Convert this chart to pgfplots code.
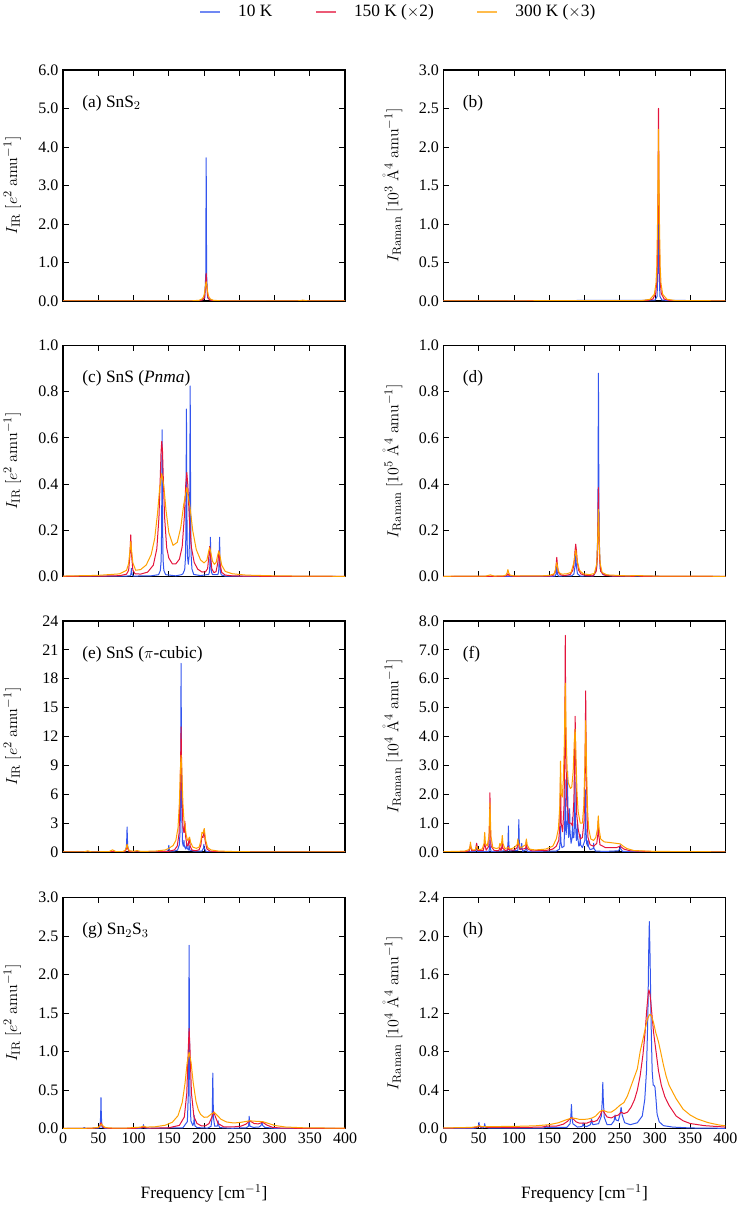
\documentclass[border=0pt]{standalone}
\usepackage[no-math]{fontspec}
\setmainfont{Liberation Serif}
\usepackage{pgfplots}
\pgfplotsset{compat=1.18}
\definecolor{cB}{RGB}{51,85,238}
\definecolor{cR}{RGB}{228,20,60}
\definecolor{cO}{RGB}{255,160,0}
\newcommand\fs{\fontsize{12}{14}\selectfont}
\newcommand\fl{\fontsize{12.5}{14}\selectfont}
\newcommand\fg{\fontsize{13}{15}\selectfont}
\pgfplotsset{
 sp/.style={width=211.5pt, height=173.25pt, scale only axis, anchor=north west,
  xmin=0, xmax=400, ymin=0, xtick={0,50,...,400}, tick align=inside,
  major tick length=4.3pt, tick style={black, line width=0.7pt},
  axis line style={line width=0.9pt},
  tick label style={font=\fs}, label style={font=\fl},
  /pgf/number format/assume math mode=true, scaled y ticks=false, scaled x ticks=false,
  every axis plot/.append style={line width=0.75pt, line join=round, mark=none},
  ylabel style={at={(axis description cs:-0.18,0.5)}, anchor=center},
  xlabel style={at={(axis description cs:0.5,-0.28)}, anchor=center, font=\fg},
  yticklabel style={/pgf/number format/.cd, fixed, fixed zerofill, precision=1},
  clip=true},
 top/.style={xticklabels={}},
 bot/.style={xlabel={Frequency [cm$^{-1}$]}},
 L/.style={ylabel={$I_{\mathrm{IR}}\ [e^{2}\ \mathrm{amu}^{-1}]$}},
}
\begin{document}
\begin{tikzpicture}
\useasboundingbox (0,0) rectangle (556.5pt,914.25pt);
% ---------------- (a)
\begin{axis}[sp, top, L, at={(47.3pt,861.75pt)}, ymax=6, ytick={0,1,...,6},
 legend style={at={(1.19,1.252)}, anchor=center, draw=none, fill=none, font=\fg,
  legend columns=3, /tikz/every odd column/.append style={column sep=11pt},
  /tikz/every even column/.append style={column sep=30pt}},
 legend image code/.code={\draw[#1, line width=1.2pt] (0pt,0pt) -- (15pt,0pt);},
 legend image post style={opacity=0.7}]
\addplot[cB] coordinates {(0,0) (195,0.01) (201,0.08) (202.4,0.7) (203,3.72) (203.6,0.7) (205,0.08) (211,0.01) (400,0)};
\addplot[cR] coordinates {(0,0.001) (180,0.002) (193,0.007) (198,0.027) (200,0.07) (201,0.144) (202,0.36) (203,0.72) (204,0.36) (205,0.144) (206,0.07) (208,0.027) (213,0.007) (230,0.002) (335,0.001) (340,0.01) (345,0.001) (400,0.0005)};
\addplot[cO] coordinates {(0,0.001) (150,0.003) (183,0.005) (193,0.019) (197,0.05) (199,0.1) (200,0.154) (201,0.25) (202,0.4) (203,0.5) (204,0.4) (205,0.25) (206,0.154) (207,0.1) (209,0.05) (213,0.019) (223,0.005) (300,0.002) (333,0.004) (337,0.012) (340,0.022) (343,0.012) (347,0.004) (400,0.001)};
\legend{10 K, 150 K ($\times$2), 300 K ($\times$3)}
\node[anchor=west, font=\fg] at (rel axis cs:0.052,0.857) {(a) SnS$_2$};
\end{axis}
% ---------------- (b)
\begin{axis}[sp, top, at={(332.6pt,861.75pt)}, ymax=3, ytick={0,0.5,...,3},
 ylabel={$I_{\mathrm{Raman}}\ [10^{3}\ \mathrm{\mathring{A}}^{4}\ \mathrm{amu}^{-1}]$}]
\addplot[cB] coordinates {(0,0) (300,0.01) (303,0.06) (304.4,0.5) (305,1.05) (305.6,0.5) (307,0.06) (310,0.01) (400,0)};
\addplot[cR] coordinates {(0,0.001) (289,0.006) (297,0.025) (301,0.096) (302.6,0.25) (303.4,0.5) (304.2,1.25) (305,2.5) (305.8,1.25) (306.6,0.5) (307.4,0.25) (309,0.096) (313,0.025) (321,0.006) (400,0.001)};
\addplot[cO] coordinates {(0,0.001) (281,0.0055) (293,0.022) (299,0.086) (301.4,0.223) (302.6,0.446) (303.8,1.115) (305,2.23) (306.2,1.115) (307.4,0.446) (308.6,0.223) (311,0.086) (317,0.022) (329,0.0055) (400,0.002)};
\node[anchor=west, font=\fg] at (rel axis cs:0.052,0.857) {(b)};
\end{axis}
% ---------------- (c)
\begin{axis}[sp, top, L, at={(47.3pt,655.1pt)}, ymax=1, ytick={0,0.2,...,1}]
\addplot[cB] coordinates {(0,0.001) (90,0.002) (95,0.003) (96,0.007) (96.5,0.017) (97,0.035) (97.5,0.017) (98,0.007) (100,0.002) (125,0.003) (135.5,0.008) (138,0.026) (139,0.065) (139.5,0.127) (140,0.318) (140.5,0.635) (141,0.318) (141.5,0.127) (142,0.065) (143,0.026) (145.5,0.008) (160,0.003) (168,0.008) (170,0.012) (172.5,0.03) (173.5,0.075) (174,0.148) (174.5,0.365) (175,0.725) (175.5,0.37) (176,0.155) (176.5,0.085) (177.65,0.053) (178.8,0.09) (179.3,0.172) (179.8,0.42) (180.3,0.825) (180.8,0.415) (181.3,0.168) (181.8,0.085) (182.8,0.033) (185.3,0.009) (195,0.004) (204,0.008) (206.5,0.008) (207.5,0.018) (208,0.035) (208.5,0.085) (209,0.17) (209.5,0.085) (210,0.036) (210.5,0.019) (212,0.008) (215.5,0.008) (219.5,0.008) (220.5,0.018) (221,0.035) (221.5,0.085) (222,0.17) (222.5,0.085) (223,0.035) (223.5,0.017) (224.5,0.007) (230,0.002) (260,0.001) (400,0)};
\addplot[cR] coordinates {(0,0.001) (50,0.0014) (80,0.0036) (90,0.010) (93,0.027) (94.8,0.089) (96,0.18) (97.2,0.092) (99,0.028) (102,0.012) (110,0.0105) (120,0.019) (128,0.049) (133,0.120) (136,0.256) (138,0.441) (139,0.541) (140,0.585) (141,0.546) (142,0.443) (144,0.258) (147,0.124) (150,0.08) (155,0.055) (160,0.055) (165,0.075) (169,0.130) (172,0.259) (174,0.396) (175.5,0.451) (177,0.396) (179,0.257) (182,0.127) (186,0.061) (191,0.032) (197,0.0195) (202,0.020) (205,0.034) (207,0.093) (208,0.13) (209,0.093) (211,0.033) (214,0.017) (217,0.021) (219.5,0.060) (221,0.111) (222.5,0.058) (225,0.018) (230,0.0063) (240,0.0029) (260,0.0015) (300,0.0008) (400,0.0003)};
\addplot[cO] coordinates {(0,0.002) (50,0.005) (80,0.0115) (90,0.0265) (93,0.056) (94.5,0.101) (96,0.151) (97.5,0.103) (99,0.059) (103,0.027) (110,0.030) (118,0.050) (125,0.095) (130,0.165) (134,0.274) (137,0.383) (140,0.445) (143,0.389) (146,0.287) (150,0.19) (156,0.135) (162,0.148) (167,0.213) (171,0.309) (175.5,0.385) (180,0.301) (184,0.197) (189,0.116) (195,0.072) (200,0.059) (204,0.071) (206.5,0.108) (208,0.125) (209.5,0.106) (212,0.066) (214.5,0.053) (217,0.060) (219.5,0.095) (221,0.11) (222.5,0.091) (225,0.049) (230,0.022) (240,0.012) (260,0.006) (300,0.003) (350,0.0015) (400,0.001)};
\node[anchor=west, font=\fg] at (rel axis cs:0.052,0.857) {(c) SnS (\textit{Pnma})};
\end{axis}
% ---------------- (d)
\begin{axis}[sp, top, at={(332.6pt,655.1pt)}, ymax=1, ytick={0,0.2,...,1},
 ylabel={$I_{\mathrm{Raman}}\ [10^{5}\ \mathrm{\mathring{A}}^{4}\ \mathrm{amu}^{-1}]$}]
\addplot[cB] coordinates {(0,0) (155,0.001) (158.2,0.002) (159.7,0.01) (160.2,0.025) (160.7,0.05) (161.2,0.025) (161.7,0.01) (163.2,0.002) (182,0.003) (185,0.011) (186.6,0.045) (187.6,0.09) (188.6,0.045) (190,0.012) (194,0.002) (213,0.003) (217.3,0.034) (218.8,0.176) (219.3,0.44) (219.8,0.88) (220.3,0.44) (220.8,0.176) (222.3,0.034) (226,0.009) (240,0.002) (400,0)};
\addplot[cR] coordinates {(0,0.0005) (85,0.001) (90,0.004) (91.4,0.012) (93,0.004) (100,0.001) (150,0.002) (155,0.0035) (158.3,0.017) (159.5,0.041) (160.7,0.083) (161.9,0.041) (163.1,0.017) (166,0.007) (172,0.004) (180,0.009) (183.6,0.028) (185.6,0.07) (186.6,0.112) (187.6,0.14) (188.6,0.112) (189.6,0.07) (191.6,0.028) (195,0.011) (203,0.004) (212,0.003) (216.6,0.022) (218.2,0.076) (219,0.19) (219.8,0.385) (220.6,0.19) (221.4,0.076) (223,0.022) (228,0.006) (240,0.002) (270,0.001) (275,0.004) (280,0.001) (400,0.0003)};
\addplot[cO] coordinates {(0,0.001) (60,0.002) (66.6,0.007) (72,0.002) (85,0.003) (88.4,0.006) (90.2,0.015) (91.4,0.03) (92.6,0.015) (94.4,0.006) (100,0.003) (140,0.003) (150,0.005) (155,0.0095) (157.1,0.012) (158.9,0.03) (160.7,0.06) (162.5,0.03) (164.3,0.016) (168,0.01) (175,0.012) (181,0.018) (184.8,0.058) (187.6,0.115) (190.4,0.058) (193,0.027) (198,0.012) (207,0.008) (214,0.013) (217.4,0.055) (218.6,0.145) (219.8,0.29) (221,0.145) (222.2,0.058) (225,0.018) (232,0.007) (260,0.003) (275,0.004) (300,0.002) (400,0.001)};
\node[anchor=west, font=\fg] at (rel axis cs:0.052,0.857) {(d)};
\end{axis}
% ---------------- (e)
\begin{axis}[sp, top, L, at={(47.3pt,448.5pt)}, ymax=24, ytick={0,3,...,24},
 yticklabel style={/pgf/number format/.cd, fixed, precision=0}]
\addplot[cB] coordinates {(0,0) (85,0.01) (88.3,0.1) (89.8,0.52) (90.3,1.3) (90.8,2.6) (91.3,1.3) (91.8,0.52) (93.3,0.1) (100,0.02) (145,0.03) (148.5,0.1) (149.5,0.35) (150,0.7) (150.5,0.35) (151.5,0.1) (158,0.1) (162.4,0.2) (164.9,0.75) (165.9,2.0) (166.4,3.9) (166.9,9.8) (167.4,19.6) (167.9,9.8) (168.4,3.9) (169.4,1.0) (170.5,0.6) (171.5,1.2) (172,0.6) (174,0.3) (175.5,0.9) (176,0.4) (178,0.2) (178.8,0.7) (179.5,0.2) (185,0.1) (197,0.1) (199.2,0.4) (199.7,0.8) (200.2,0.4) (203,0.05) (210,0.02) (400,0)};
\addplot[cR] coordinates {(0,0.002) (80,0.03) (88,0.06) (90,0.38) (90.8,0.75) (91.6,0.38) (93.6,0.06) (100,0.012) (130,0.015) (150,0.07) (158,0.22) (162,0.63) (164.5,1.92) (166.2,6.51) (167.4,13.0) (168.6,6.6) (170,2.58) (171.5,2.0) (172.8,3.2) (174,1.52) (175.8,0.63) (177.5,0.69) (179,1.5) (180.5,0.55) (183,0.20) (188,0.125) (193,0.235) (195.5,0.71) (197,1.64) (198.5,1.51) (200,2.3) (201.5,1.16) (204,0.32) (208,0.10) (215,0.038) (230,0.012) (260,0.005) (400,0.001)};
\addplot[cO] coordinates {(0,0.01) (30,0.02) (35,0.12) (40,0.02) (65,0.03) (70,0.22) (75,0.04) (85,0.05) (88,0.17) (89.6,0.43) (90.8,0.8) (92,0.43) (94,0.14) (100,0.07) (105,0.15) (110,0.06) (130,0.09) (145,0.21) (150,0.38) (156,0.67) (160,1.2) (163,2.5) (165,5.15) (166.4,8.58) (167.4,10.05) (168.4,8.65) (170,5.05) (171.5,3.27) (173,2.8) (174.5,1.82) (176.5,1.21) (178,1.29) (179.5,1.54) (181,0.99) (184,0.51) (189,0.38) (193,0.51) (195.4,1.13) (197,2.04) (198.6,1.94) (200.3,2.44) (202.1,1.29) (205,0.46) (210,0.21) (220,0.1) (240,0.05) (270,0.02) (300,0.01) (400,0.005)};
\node[anchor=west, font=\fg] at (rel axis cs:0.052,0.857) {(e) SnS ($\pi$-cubic)};
\end{axis}
% ---------------- (f)
\begin{axis}[sp, top, at={(332.6pt,448.5pt)}, ymax=8, ytick={0,1,...,8},
 ylabel={$I_{\mathrm{Raman}}\ [10^{4}\ \mathrm{\mathring{A}}^{4}\ \mathrm{amu}^{-1}]$}]
\addplot[cB] coordinates {(0,0) (45.5,0.01) (46.5,0.12) (47,0.3) (47.5,0.12) (48.5,0.01) (64.5,0.02) (65.4,0.16) (65.9,0.4) (66.4,0.16) (67.5,0.02) (90.7,0.04) (91.6,0.36) (92.1,0.9) (92.6,0.36) (93.5,0.04) (105.5,0.05) (106.4,0.45) (106.9,1.12) (107.4,0.45) (108.5,0.08) (110.5,0.12) (111,0.3) (111.5,0.12) (112.5,0.02) (117,0.08) (117.6,0.2) (118.2,0.08) (119,0.02) (160,0.03) (164.5,0.1) (165.5,0.36) (166,0.9) (166.5,0.36) (168,0.15) (171,0.2) (172,1.0) (172.5,2.5) (173,1.1) (174,0.6) (175.5,1.2) (176,2.8) (176.5,1.2) (177.5,0.5) (178.5,0.7) (179,1.5) (179.5,0.7) (181,0.3) (182.5,0.5) (183,1.2) (183.5,0.5) (185,0.5) (186,1.1) (186.5,2.6) (187,1.1) (188.5,0.4) (189.5,0.5) (190,1.1) (190.5,0.5) (192,0.2) (193.5,0.25) (194,0.6) (194.5,0.25) (197,0.15) (200.5,0.4) (201,0.9) (201.5,2.15) (202,0.9) (203,0.3) (204.5,0.2) (205,0.4) (205.5,0.2) (208,0.08) (212.5,0.12) (213,0.3) (213.5,0.12) (216,0.03) (230,0.02) (248,0.04) (250.3,0.12) (250.8,0.25) (251.3,0.12) (254,0.02) (400,0)};
\addplot[cR] coordinates {(0,0.005) (30,0.01) (36.5,0.04) (38.3,0.25) (40,0.04) (45.5,0.06) (47,0.3) (48.5,0.06) (56.5,0.05) (58.5,0.3) (60.5,0.06) (64.3,0.2) (65.3,0.9) (65.9,2.05) (66.5,0.9) (67.5,0.2) (72,0.05) (78.5,0.05) (80,0.15) (81.5,0.05) (82.4,0.12) (83.4,0.35) (84.4,0.12) (88,0.05) (91.2,0.08) (92,0.2) (92.8,0.08) (100,0.06) (104.5,0.15) (105.5,0.4) (106.3,0.25) (107,0.3) (108,0.1) (111,0.1) (116.6,0.12) (117.6,0.4) (118.6,0.12) (125,0.04) (145,0.05) (155,0.1) (160,0.2) (163.5,0.4) (165,0.9) (166,2.4) (167,1.0) (169,0.7) (171,1.6) (172,3.5) (172.8,7.5) (173.6,3.5) (175,1.6) (176.5,1.5) (178,1.0) (181,1.0) (183,0.9) (185,1.8) (186,3.2) (186.8,4.7) (187.6,3.2) (189,1.3) (191,0.8) (194,0.45) (197,0.5) (199.5,1.1) (200.8,2.8) (201.7,5.58) (202.6,2.8) (204,1.0) (205,0.5) (208,0.25) (213,0.2) (217.5,0.3) (218.9,0.6) (219.6,1.1) (220.3,0.6) (222,0.25) (230,0.15) (245,0.15) (250.8,0.2) (256,0.1) (265,0.04) (300,0.01) (400,0.003)};
\addplot[cO] coordinates {(0,0.01) (30,0.03) (36,0.08) (37.5,0.17) (38.3,0.34) (39.1,0.17) (41,0.07) (45,0.07) (47,0.2) (49,0.08) (55,0.1) (57.5,0.3) (58.5,0.68) (59.5,0.3) (62,0.2) (64.5,0.55) (65.9,1.7) (67.3,0.55) (70,0.16) (75,0.12) (78.8,0.15) (80,0.3) (81.2,0.2) (82.4,0.3) (83.4,0.57) (84.4,0.3) (87,0.12) (92,0.15) (95,0.1) (100,0.15) (104.5,0.25) (105.5,0.45) (106.5,0.28) (109,0.15) (112,0.18) (116.5,0.25) (117.6,0.45) (118.7,0.24) (122,0.1) (130,0.07) (145,0.1) (155,0.2) (160,0.45) (163,0.8) (165,1.6) (166,3.15) (167,2.0) (168.5,1.9) (170,2.5) (171.5,3.8) (172.8,5.85) (174,4.0) (175.5,2.8) (177,2.4) (180,2.2) (182,2.25) (184,2.8) (185.5,3.8) (186.8,4.25) (188,3.2) (189.5,2.0) (191,1.4) (194,1.0) (197,1.0) (199,1.6) (200.5,3.0) (201.7,4.55) (203,2.8) (204.5,1.4) (206,0.8) (209,0.45) (213,0.4) (216,0.5) (218.5,0.8) (219.6,1.25) (220.7,0.8) (223,0.45) (228,0.35) (235,0.33) (245,0.3) (250.8,0.28) (255,0.2) (260,0.12) (270,0.05) (300,0.02) (400,0.005)};
\node[anchor=west, font=\fg] at (rel axis cs:0.052,0.857) {(f)};
\end{axis}
% ---------------- (g)
\begin{axis}[sp, bot, L, at={(47.3pt,241.1pt)}, ymax=3, ytick={0,0.5,...,3}]
\addplot[cB] coordinates {(0,0) (28,0.002) (30,0.012) (32,0.002) (50,0.005) (52.3,0.015) (53.3,0.16) (53.8,0.40) (54.3,0.16) (55.3,0.015) (60,0.003) (110,0.003) (113,0.01) (113.6,0.025) (114,0.05) (114.4,0.025) (115,0.01) (120,0.003) (170,0.01) (176.3,0.09) (177.8,0.48) (178.3,1.19) (178.8,2.38) (179.3,1.19) (179.8,0.48) (181.3,0.1) (184,0.04) (185.3,0.07) (185.6,0.085) (186,0.17) (186.4,0.085) (187,0.035) (190,0.012) (205,0.006) (209.9,0.028) (211.4,0.14) (211.9,0.36) (212.4,0.72) (212.9,0.36) (213.4,0.14) (215,0.03) (218.5,0.03) (219.5,0.05) (220,0.1) (220.5,0.05) (222,0.012) (240,0.003) (260,0.01) (263,0.03) (263.5,0.08) (264,0.16) (264.5,0.08) (265,0.03) (270,0.015) (278,0.02) (280.8,0.04) (282,0.08) (283.2,0.04) (286,0.015) (300,0.003) (400,0)};
\addplot[cR] coordinates {(0,0.002) (40,0.002) (50,0.011) (52.3,0.038) (53.8,0.076) (55.3,0.038) (57.6,0.011) (65,0.003) (100,0.0016) (112,0.012) (114,0.022) (116,0.012) (125,0.004) (150,0.01) (165,0.041) (172,0.15) (175.5,0.46) (177.5,1.01) (178.8,1.3) (180.1,1.01) (182.1,0.46) (185.6,0.155) (190,0.065) (196,0.036) (202,0.036) (207,0.065) (210.5,0.136) (213.5,0.22) (216.5,0.142) (220,0.065) (228,0.021) (240,0.02) (252,0.03) (259,0.055) (265,0.1) (271,0.065) (277,0.06) (283,0.082) (289,0.045) (297,0.016) (310,0.005) (350,0.002) (400,0.001)};
\addplot[cO] coordinates {(0,0.002) (40,0.004) (50,0.016) (52.5,0.037) (54.5,0.058) (56.5,0.037) (59,0.016) (65,0.007) (90,0.0065) (110,0.018) (114,0.031) (118,0.019) (130,0.022) (145,0.043) (155,0.082) (163,0.166) (169,0.337) (173,0.588) (176,0.854) (178.8,0.99) (181.6,0.857) (184.6,0.595) (188.6,0.35) (192,0.239) (195,0.184) (200,0.146) (205,0.149) (210,0.187) (214.5,0.21) (219,0.169) (224,0.12) (232,0.085) (242,0.072) (252,0.08) (258,0.09) (265,0.1) (272,0.095) (278,0.092) (283,0.09) (290,0.07) (300,0.04) (315,0.02) (340,0.01) (400,0.004)};
\node[anchor=west, font=\fg] at (rel axis cs:0.052,0.857) {(g) Sn$_2$S$_3$};
\end{axis}
% ---------------- (h)
\begin{axis}[sp, bot, at={(332.6pt,241.1pt)}, ymax=2.4, ytick={0,0.4,...,2.4},
 ylabel={$I_{\mathrm{Raman}}\ [10^{4}\ \mathrm{\mathring{A}}^{4}\ \mathrm{amu}^{-1}]$}]
\addplot[cB] coordinates {(0,0) (45,0.003) (49.5,0.02) (50.4,0.063) (51.3,0.02) (55,0.005) (57.6,0.015) (58.5,0.05) (59.4,0.015) (65,0.003) (140,0.003) (145.2,0.012) (146,0.03) (146.8,0.012) (175,0.012) (179.5,0.05) (180.7,0.125) (181.5,0.25) (182.3,0.125) (183.5,0.05) (190,0.015) (196,0.02) (197.5,0.03) (198,0.06) (198.5,0.03) (203,0.02) (208.5,0.04) (209.5,0.07) (210,0.1) (210.5,0.07) (212,0.04) (220,0.05) (224,0.13) (225.3,0.3) (226,0.48) (226.7,0.3) (228,0.12) (232,0.04) (238,0.04) (242,0.08) (243.4,0.14) (244.5,0.09) (248,0.08) (250.5,0.15) (252,0.22) (253.5,0.14) (257,0.06) (265,0.04) (275,0.06) (282,0.13) (285.5,0.3) (288,0.6) (290,1.2) (291,1.8) (292,2.15) (293,1.8) (294.5,1.1) (296,0.6) (297.5,0.45) (298.5,0.45) (300,0.43) (301.5,0.3) (303,0.15) (306,0.07) (312,0.03) (325,0.015) (350,0.006) (400,0.002)};
\addplot[cR] coordinates {(0,0.004) (40,0.008) (48,0.015) (50.4,0.03) (53,0.015) (58.5,0.02) (62,0.012) (100,0.01) (140,0.015) (146,0.025) (160,0.025) (170,0.045) (176,0.075) (179.5,0.105) (181.5,0.114) (184,0.1) (188,0.07) (193,0.055) (198,0.055) (203,0.055) (208,0.07) (210,0.08) (213,0.07) (218,0.085) (222,0.13) (224.5,0.18) (226.3,0.19) (228.5,0.16) (232,0.12) (238,0.11) (243.4,0.13) (248,0.14) (252,0.17) (256,0.155) (261,0.17) (266,0.22) (271,0.3) (275,0.4) (279,0.55) (283,0.77) (286,1.0) (288.5,1.25) (290.5,1.41) (291.5,1.44) (293,1.39) (295.5,1.2) (298,1.0) (301.5,0.8) (305,0.6) (309,0.45) (314,0.33) (320,0.24) (330,0.13) (340,0.08) (350,0.052) (370,0.03) (400,0.015)};
\addplot[cO] coordinates {(0,0.006) (40,0.012) (47,0.02) (50.5,0.028) (55,0.02) (60,0.02) (100,0.022) (130,0.028) (150,0.04) (163,0.06) (172,0.085) (178,0.1) (182,0.11) (187,0.105) (193,0.095) (200,0.095) (206,0.1) (211,0.11) (216,0.13) (221,0.17) (225,0.19) (228,0.185) (233,0.17) (238,0.17) (244,0.2) (250,0.24) (256,0.27) (261,0.34) (265,0.42) (270,0.52) (275,0.62) (279,0.8) (283,0.93) (286,1.03) (289,1.13) (292,1.18) (293,1.187) (295,1.17) (298,1.1) (301,1.0) (305,0.9) (308,0.8) (312,0.66) (316,0.54) (320,0.45) (325,0.38) (330,0.31) (340,0.2) (350,0.14) (360,0.1) (375,0.062) (390,0.038) (400,0.028)};
\node[anchor=west, font=\fg] at (rel axis cs:0.052,0.857) {(h)};
\end{axis}
\end{tikzpicture}
\end{document}
